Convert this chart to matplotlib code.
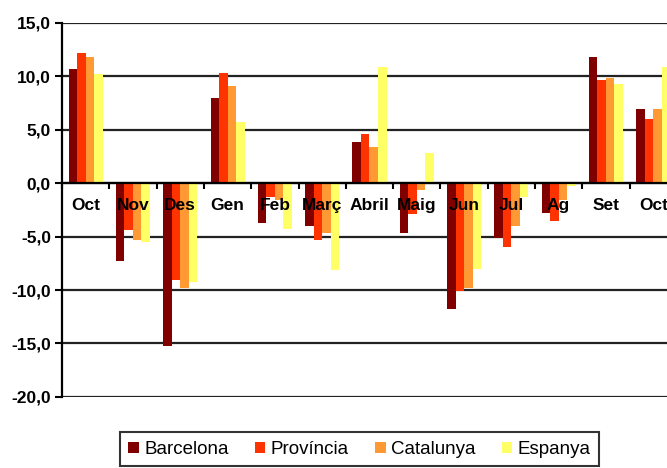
import numpy as np
import matplotlib.pyplot as plt
from matplotlib.ticker import FuncFormatter, MultipleLocator

plt.rcParams['font.family'] = ['Liberation Sans', 'DejaVu Sans']

# Dades
mesos = ['Oct', 'Nov', 'Des', 'Gen', 'Feb', 'Març', 'Abril', 'Maig', 'Jun', 'Jul', 'Ag', 'Set', 'Oct']
barcelona = [10.7, -7.3, -15.2, 8.0, -3.7, -4.0, 3.9, -4.7, -11.75, -5.1, -2.75, 11.8, 6.95]
provincia = [12.15, -4.4, -9.1, 10.35, -1.3, -5.3, 4.6, -2.9, -10.1, -6.0, -3.5, 9.65, 6.0]
catalunya = [11.8, -5.3, -9.8, 9.1, -1.6, -4.7, 3.35, -0.6, -9.8, -4.0, -1.6, 9.8, 6.95]
espanya = [10.2, -5.5, -9.25, 5.7, -4.25, -8.15, 10.9, 2.8, -8.0, -1.3, -0.3, 9.3, 10.9]

series = [
    ('Barcelona', barcelona, '#800000'),
    ('Província', provincia, '#ff3300'),
    ('Catalunya', catalunya, '#ff9933'),
    ('Espanya', espanya, '#ffff66'),
]

fig = plt.figure(figsize=(6.67, 4.68), dpi=100)
ax = fig.add_axes([0.093, 0.152, 0.907, 0.799])

x = np.arange(len(mesos))
w = 0.18
for i, (nom, vals, col) in enumerate(series):
    ax.bar(x + (i - 1.5) * w, vals, width=w, color=col, label=nom, zorder=3)

ax.yaxis.set_major_locator(MultipleLocator(5))
ax.yaxis.set_major_formatter(FuncFormatter(lambda v, p: f'{v:.1f}'.replace('.', ',')))
ax.grid(axis='y', color='#222222', linewidth=1.6, zorder=0)

for s in ['top', 'right']:
    ax.spines[s].set_visible(False)
ax.spines['left'].set_linewidth(1.6)
ax.spines['bottom'].set_position(('data', 0))
ax.spines['bottom'].set_linewidth(1.6)
ax.spines['bottom'].set_zorder(4)

ax.set_xticks(x)
ax.set_xticklabels(mesos, fontsize=12.5, fontweight='bold')
ax.set_xticks(np.arange(-0.5, 13, 1), minor=True)
ax.tick_params(axis='x', which='major', length=0, pad=11)
ax.tick_params(axis='x', which='minor', length=4, width=1.5, direction='out')
ax.tick_params(axis='y', length=5, width=1.5, labelsize=12.5, pad=3)
ax.xaxis.set_zorder(5)
for t in ax.get_yticklabels():
    t.set_fontweight('bold')

# limits after the ticks so they are not widened
ax.set_ylim(-20, 15)
ax.set_xlim(-0.5, 12.29)

leg = fig.legend(loc='upper center', bbox_to_anchor=(0.539, 0.096), ncol=4,
                 fontsize=13.5, frameon=True, fancybox=False, edgecolor='black',
                 handlelength=0.55, handleheight=0.55, handletextpad=0.3,
                 columnspacing=1.4, borderpad=0.45)
leg.get_frame().set_linewidth(1.5)

fig.savefig('out.png', dpi=100)
